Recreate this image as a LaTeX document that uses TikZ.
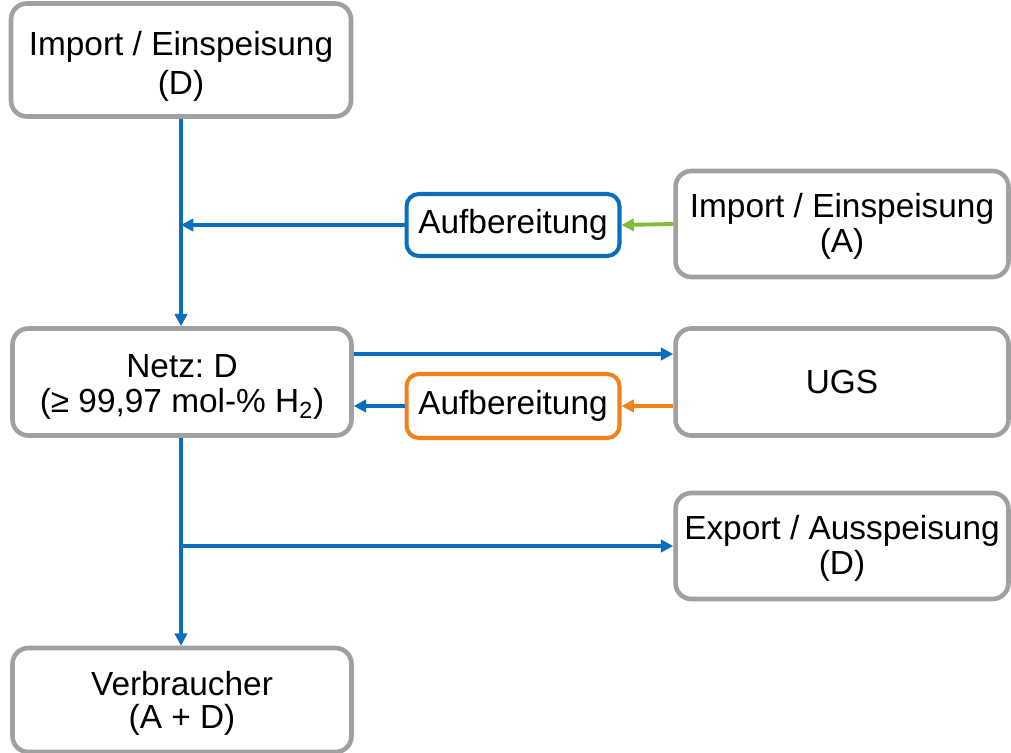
\documentclass[tikz,border=0pt]{standalone}
\usepackage{fontspec}
\setmainfont{Liberation Sans}
\frenchspacing
\usetikzlibrary{arrows.meta}
\definecolor{bxgray}{RGB}{160,160,160}
\definecolor{lnblue}{RGB}{10,110,190}
\definecolor{lngreen}{RGB}{125,190,50}
\definecolor{lnorange}{RGB}{240,130,25}
\newcommand{\topstrut}[1]{\rule{0pt}{#1}}
\tikzset{
  box/.style={draw=bxgray, line width=2.6pt, rounded corners=9pt, fill=white, align=center,
     font=\fontsize{19}{20}\selectfont, inner sep=0pt},
  prep/.style={box, line width=2.3pt, rounded corners=7pt},
  flow/.style={line width=2.2pt, -{Triangle[length=7pt,width=7pt]}},
  plain/.style={line width=2.2pt},
}
\begin{document}
\begin{tikzpicture}[x=0.02cm,y=-0.02cm]
\useasboundingbox (0,0) rectangle (1011,753);
\node[box, minimum width=6.80cm, minimum height=2.26cm] (impD) at (181,60) {\topstrut{20.7pt}Import / Einspeisung\\[2.3pt](D)};
\node[box, minimum width=6.66cm, minimum height=2.12cm] (impA) at (842,224) {\topstrut{16.2pt}Import / Einspeisung\\(A)};
\node[prep, draw=lnblue, minimum width=4.26cm, minimum height=1.24cm] (aufA) at (513,225) {Aufbereitung};
\node[box, minimum width=6.78cm, minimum height=2.14cm] (netz) at (182,382) {\topstrut{18.7pt}Netz: D\\(≥ 99,97 mol-\% H\textsubscript{2})};
\node[box, minimum width=6.66cm, minimum height=2.14cm] (ugs) at (842,382) {UGS};
\node[prep, draw=lnorange, minimum width=4.26cm, minimum height=1.28cm] (aufU) at (513,406) {Aufbereitung};
\node[box, minimum width=6.66cm, minimum height=2.12cm] (exp) at (842,546) {\topstrut{16.5pt}Export / Ausspeisung\\(D)};
\node[box, minimum width=6.78cm, minimum height=2.08cm] (verb) at (182,700) {\topstrut{17.3pt}Verbraucher\\[-1.1pt](A + D)};
\coordinate (j1) at (181,225);
\coordinate (j2) at (181,546);
% flows
\draw[plain, lnblue] (impD.south -| j1) -- (j1);
\draw[flow, lnblue] (j1) -- (netz.north -| j1);
\draw[flow, lnblue] (aufA.west) -- (j1);
\draw[flow, lngreen] (impA.west) -- (aufA.east);
\draw[flow, lnblue] (netz.east |- 0,354) -- (ugs.west |- 0,354);
\draw[flow, lnorange] (ugs.west |- aufU) -- (aufU.east);
\draw[flow, lnblue] (aufU.west) -- (netz.east |- aufU);
\draw[plain, lnblue] (netz.south -| j2) -- (j2);
\draw[flow, lnblue] (j2) -- (verb.north -| j2);
\draw[flow, lnblue] (j2) -- (exp.west);
\end{tikzpicture}
\end{document}
